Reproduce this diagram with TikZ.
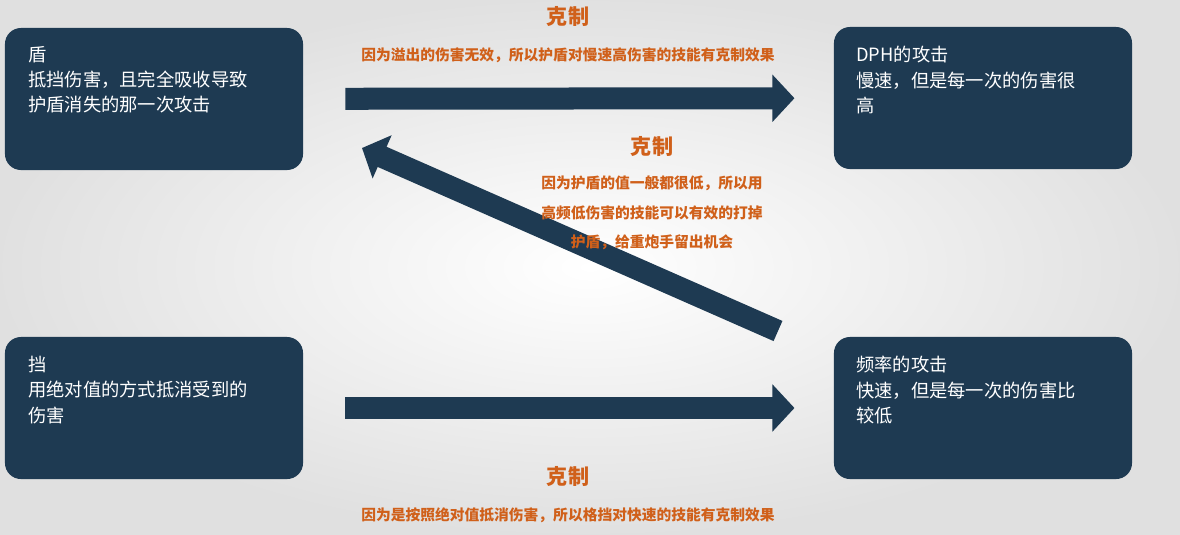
\documentclass[tikz,border=0pt]{standalone}
\usepackage{fontspec}
\setmainfont{Noto Sans CJK SC}
\usetikzlibrary{positioning,arrows.meta}
\definecolor{navy}{HTML}{1E3A52}
\definecolor{note}{HTML}{D0601A}
\begin{document}
\begin{tikzpicture}[x=0.025cm, y=-0.025cm,
    box/.style={rectangle, fill=navy, rounded corners=0.4cm, minimum width=7.45cm, minimum height=3.55cm, inner sep=0pt},
    boxtext/.style={anchor=north west, text=white, align=left, text width=6.6cm, inner sep=0pt, font=\fontsize{13}{18}\selectfont},
    title/.style={font=\fontsize{17}{20}\selectfont},
    tag/.style={text=note, font=\fontsize{15}{18}\selectfont\bfseries},
    note/.style={text=note, align=center, font=\fontsize{10.5}{21}\selectfont\bfseries},
    bigarrow/.style={draw=navy, line width=0.55cm, -{Triangle[width=1.15cm, length=0.55cm]}}]
    % background
    \shade[inner color=white, outer color=black!12] (0,0) rectangle (1180,534);
    \useasboundingbox (0,0) rectangle (1180,534);

    \node [box] (shield) at (154,99) {};
    \node [box] (slow) at (983,98) {};
    \node [box] (block) at (154,408) {};
    \node [box] (fast) at (983,408) {};

    \node [boxtext] at (28,46) {{\title 护盾}\\抵挡伤害，且完全吸收导致\\护盾消失的那一次攻击};
    \node [boxtext] at (856,46) {{\title 高DPH的攻击}\\慢速，但是每一次的伤害很\\高};
    \node [boxtext] at (28,356) {{\title 格挡}\\用绝对值的方式抵消受到的\\伤害};
    \node [boxtext] at (856,356) {{\title 高频率的攻击}\\快速，但是每一次的伤害比\\较低};

    \coordinate (diagfrom) at (778,331);
    \coordinate (diagto) at (362,148);
    \draw [bigarrow, shorten <=1.05cm, shorten >=0.98cm] (shield) -- (slow);
    \draw [bigarrow, shorten <=1.05cm, shorten >=0.98cm] (block) -- (fast);
    \draw [bigarrow] (diagfrom) -- (diagto);

    \node [tag] (tag1) at (568,16) {克制};
    \node [note, below=0.3cm of tag1] {因为溢出的伤害无效，所以护盾对慢速高伤害的技能有克制效果};
    \node [tag] (tag2) at (652,146) {克制};
    \node [note, below=0.25cm of tag2] {因为护盾的值一般都很低，所以用\\高频低伤害的技能可以有效的打掉\\护盾，给重炮手留出机会};
    \node [tag] (tag3) at (568,476) {克制};
    \node [note, below=0.3cm of tag3] {因为是按照绝对值抵消伤害，所以格挡对快速的技能有克制效果};
\end{tikzpicture}
\end{document}
